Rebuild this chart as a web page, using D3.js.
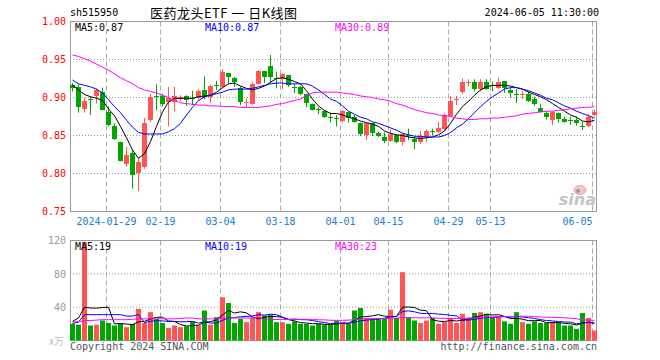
<!DOCTYPE html>
<html><head><meta charset="utf-8">
<script src="https://cdn.jsdelivr.net/npm/d3@7"></script>
<style>body{margin:0;background:#fff}svg{display:block}</style>
</head><body>
<script>
const dates = ["2024-01-19","2024-01-22","2024-01-23","2024-01-24","2024-01-25","2024-01-26","2024-01-29","2024-01-30","2024-01-31","2024-02-01",
"2024-02-02","2024-02-05","2024-02-06","2024-02-07","2024-02-08","2024-02-19","2024-02-20","2024-02-21","2024-02-22","2024-02-23",
"2024-02-26","2024-02-27","2024-02-28","2024-02-29","2024-03-01","2024-03-04","2024-03-05","2024-03-06","2024-03-07","2024-03-08",
"2024-03-11","2024-03-12","2024-03-13","2024-03-14","2024-03-15","2024-03-18","2024-03-19","2024-03-20","2024-03-21","2024-03-22",
"2024-03-25","2024-03-26","2024-03-27","2024-03-28","2024-03-29","2024-04-01","2024-04-02","2024-04-03","2024-04-08","2024-04-09",
"2024-04-10","2024-04-11","2024-04-12","2024-04-15","2024-04-16","2024-04-17","2024-04-18","2024-04-19","2024-04-22","2024-04-23",
"2024-04-24","2024-04-25","2024-04-26","2024-04-29","2024-04-30","2024-05-06","2024-05-07","2024-05-08","2024-05-09","2024-05-10",
"2024-05-13","2024-05-14","2024-05-15","2024-05-16","2024-05-17","2024-05-20","2024-05-21","2024-05-22","2024-05-23","2024-05-24",
"2024-05-27","2024-05-28","2024-05-29","2024-05-30","2024-05-31","2024-06-03","2024-06-04","2024-06-05"];

const open = [0.917,0.914,0.885,0.898,0.902,0.907,0.881,0.862,0.841,0.812,
0.827,0.801,0.808,0.871,0.902,0.902,0.894,0.894,0.898,0.902,
0.899,0.899,0.910,0.900,0.916,0.914,0.932,0.926,0.912,0.893,
0.892,0.918,0.935,0.941,0.926,0.924,0.929,0.914,0.914,0.904,
0.891,0.885,0.882,0.875,0.873,0.869,0.881,0.875,0.866,0.851,
0.866,0.853,0.848,0.843,0.851,0.842,0.851,0.846,0.841,0.848,
0.856,0.854,0.859,0.876,0.897,0.907,0.919,0.920,0.911,0.920,
0.917,0.912,0.922,0.910,0.904,0.904,0.905,0.898,0.886,0.880,
0.871,0.879,0.872,0.870,0.870,0.863,0.862,0.877];
const high = [0.919,0.917,0.900,0.901,0.912,0.913,0.888,0.866,0.842,0.835,
0.831,0.820,0.873,0.905,0.917,0.905,0.914,0.914,0.903,0.903,
0.909,0.911,0.928,0.917,0.922,0.937,0.932,0.927,0.915,0.899,
0.920,0.936,0.935,0.956,0.934,0.932,0.929,0.918,0.915,0.905,
0.892,0.887,0.883,0.880,0.877,0.884,0.881,0.877,0.867,0.867,
0.867,0.855,0.854,0.858,0.852,0.853,0.859,0.848,0.856,0.858,
0.859,0.868,0.879,0.902,0.902,0.925,0.924,0.924,0.924,0.924,
0.921,0.926,0.922,0.913,0.911,0.908,0.908,0.901,0.892,0.882,
0.882,0.880,0.875,0.875,0.875,0.868,0.878,0.884];
const low = [0.908,0.880,0.880,0.877,0.892,0.883,0.862,0.844,0.816,0.809,
0.780,0.777,0.806,0.868,0.883,0.888,0.862,0.882,0.895,0.889,
0.890,0.897,0.898,0.893,0.910,0.912,0.918,0.914,0.890,0.887,
0.890,0.917,0.919,0.919,0.912,0.911,0.914,0.906,0.903,0.887,
0.883,0.878,0.873,0.867,0.862,0.867,0.867,0.867,0.849,0.844,
0.849,0.848,0.840,0.842,0.840,0.837,0.844,0.832,0.839,0.841,
0.850,0.853,0.857,0.875,0.890,0.905,0.915,0.908,0.908,0.910,
0.908,0.911,0.906,0.900,0.893,0.898,0.894,0.889,0.880,0.871,
0.864,0.867,0.867,0.864,0.863,0.857,0.861,0.875];
const close = [0.913,0.887,0.896,0.8975,0.910,0.884,0.864,0.846,0.817,0.824,
0.798,0.815,0.867,0.900,0.9015,0.891,0.899,0.902,0.9005,0.897,
0.8985,0.909,0.901,0.915,0.9155,0.934,0.927,0.921,0.894,0.8935,
0.918,0.935,0.927,0.927,0.9255,0.931,0.916,0.9135,0.904,0.893,
0.884,0.8845,0.875,0.8745,0.8725,0.882,0.873,0.868,0.852,0.866,
0.853,0.850,0.843,0.852,0.842,0.852,0.8505,0.842,0.849,0.856,
0.8555,0.860,0.877,0.895,0.898,0.920,0.920,0.911,0.920,0.911,
0.9165,0.921,0.913,0.906,0.9035,0.905,0.896,0.892,0.881,0.875,
0.881,0.872,0.868,0.8695,0.866,0.8625,0.875,0.881];

const ma5 = [0.916,0.910,0.904,0.901,0.899,0.896,0.885,0.876,0.862,0.847,
0.831,0.820,0.826,0.842,0.862,0.881,0.894,0.899,0.899,0.899,
0.899,0.901,0.902,0.903,0.907,0.913,0.918,0.919,0.915,0.912,
0.910,0.912,0.915,0.920,0.925,0.926,0.924,0.921,0.918,0.909,
0.898,0.889,0.883,0.879,0.879,0.877,0.874,0.872,0.869,0.867,
0.865,0.862,0.856,0.853,0.851,0.850,0.848,0.847,0.846,0.847,
0.848,0.851,0.856,0.866,0.878,0.888,0.895,0.903,0.910,0.914,
0.916,0.916,0.916,0.915,0.913,0.911,0.907,0.904,0.901,0.897,
0.892,0.887,0.882,0.877,0.874,0.869,0.868,0.870];
const ma10 = [0.923,0.918,0.916,0.914,0.911,0.906,0.897,0.888,0.880,0.870,
0.861,0.854,0.852,0.852,0.852,0.852,0.855,0.859,0.866,0.877,
0.887,0.896,0.901,0.903,0.905,0.907,0.910,0.911,0.911,0.911,
0.912,0.914,0.916,0.918,0.919,0.919,0.918,0.918,0.918,0.918,
0.915,0.910,0.904,0.898,0.895,0.889,0.882,0.878,0.874,0.872,
0.868,0.866,0.863,0.860,0.857,0.853,0.851,0.849,0.849,0.848,
0.848,0.848,0.850,0.854,0.860,0.865,0.872,0.880,0.888,0.895,
0.901,0.906,0.911,0.913,0.913,0.911,0.909,0.906,0.903,0.899,
0.897,0.893,0.889,0.886,0.882,0.879,0.876,0.873];
const ma30 = [0.956,0.954,0.951,0.948,0.944,0.940,0.936,0.931,0.926,0.922,
0.918,0.913,0.910,0.908,0.906,0.903,0.900,0.896,0.893,0.892,
0.891,0.890,0.890,0.889,0.889,0.888,0.888,0.888,0.887,0.887,
0.887,0.887,0.888,0.889,0.891,0.892,0.894,0.896,0.898,0.903,
0.906,0.907,0.907,0.907,0.907,0.906,0.905,0.904,0.902,0.901,
0.900,0.898,0.897,0.895,0.892,0.890,0.887,0.884,0.882,0.880,
0.879,0.877,0.876,0.875,0.873,0.872,0.871,0.871,0.872,0.872,
0.873,0.873,0.874,0.875,0.876,0.878,0.879,0.880,0.881,0.882,
0.882,0.883,0.884,0.885,0.886,0.887,0.887,0.888];

const volume = [20,19,118,18,19,24,21,18,20,16,
20,38,21,34,26,21,15,18,16,17,
23,18,36,19,28,52,45,21,26,22,
27,34,30,31,22,22,20,23,20,20,
18,20,19,19,24,22,20,36,39,27,
26,27,27,37,27,82,28,24,21,24,
27,20,22,27,21,32,27,33,34,32,
27,29,23,20,34,22,20,23,21,21,
22,21,18,18,14,33,27,12];
const volMA5Head = [23,27,40,39];
const volMA10Head = [20.5,22,31,31,31,31,31,31,31];
const volMA30Head = [22.4,22.4,24,24,24.5,25,25,25,25,25,25.5,26,26,26,26,26,26,26,26.5,27,27,26,26,26,26,27,27,27,27];

const tickDates = ["2024-01-29","2024-02-19","2024-03-04","2024-03-18","2024-04-01","2024-04-15","2024-04-29","2024-05-13","2024-06-05"];
const tickLabels = ["2024-01-29","02-19","03-04","03-18","04-01","04-15","04-29","05-13","06-05"];
const priceTicks = [0.75,0.80,0.85,0.90,0.95,1.00];
const volTicks = [40,80,120];

const title = "医药龙头ETF 一 日K线图";
const code = "sh515950";
const stamp = "2024-06-05 11:30:00";
const priceMALabels = ["MA5:0.87","MA10:0.87","MA30:0.89"];
const volMALabels = ["MA5:19","MA10:19","MA30:23"];

function rolling(arr, n, head){
  return arr.map((v,i)=> i < head.length ? head[i] : d3.mean(arr.slice(i-n+1,i+1)));
}
const volMA5 = rolling(volume,5,volMA5Head);
const volMA10 = rolling(volume,10,volMA10Head);
const volMA30 = rolling(volume,30,volMA30Head);

const W=660,H=360, L=70, R=597;
const RED="#ff5555", GREEN="#00a600";
const MONO="'DejaVu Sans Mono', monospace";
const maColors=["#000000","#0000ff","#ff00ff"];

const svg=d3.select("body").append("svg").attr("width",W).attr("height",H);
svg.append("rect").attr("width",W).attr("height",H).attr("fill","#fff");

const x=d3.scaleBand().domain(dates).range([69.5,597.5]).padding(0);
const cx=d=>x(d)+x.bandwidth()/2;
const y=d3.scaleLinear().domain([0.75,1.00]).range([211.5,21.5]);
const yv=d3.scaleLinear().domain([0,120]).range([340.5,240.5]);

const panels=[{top:21.5,bot:211.5},{top:240.5,bot:340.5}];

// vertical dashed grid
panels.forEach(p=>{
  svg.append("g").selectAll("line").data(tickDates).join("line")
    .attr("x1",d=>cx(d)-2).attr("x2",d=>cx(d)-2)
    .attr("y1",p.top).attr("y2",p.bot)
    .attr("stroke","#aaa").attr("stroke-dasharray","5,3");
});
// horizontal dotted grid
svg.append("g").selectAll("line").data(priceTicks.filter(t=>t>0.75&&t<1)).join("line")
  .attr("x1",L).attr("x2",R).attr("y1",d=>y(d)).attr("y2",d=>y(d))
  .attr("stroke","#999").attr("stroke-dasharray","1,2");
svg.append("g").selectAll("line").data(volTicks.filter(t=>t<120)).join("line")
  .attr("x1",L).attr("x2",R).attr("y1",d=>yv(d)).attr("y2",d=>yv(d))
  .attr("stroke","#999").attr("stroke-dasharray","1,2");

// sina watermark
const wm=svg.append("g");
wm.append("ellipse").attr("cx",580).attr("cy",190).attr("rx",6).attr("ry",4.5).attr("fill","#f6c4c4").attr("stroke","#eda0a0");
wm.append("circle").attr("cx",578).attr("cy",191).attr("r",2).attr("fill","#999");
wm.append("text").attr("x",596).attr("y",205).attr("text-anchor","end")
  .attr("font-family","'DejaVu Sans', sans-serif").attr("font-weight","bold").attr("font-style","italic")
  .attr("font-size",16).attr("fill","#c4c4c4").text("sina");

// frames
panels.forEach(p=>{
  svg.append("rect").attr("x",L+0.5).attr("y",p.top).attr("width",R-L-1).attr("height",p.bot-p.top)
    .attr("fill","none").attr("stroke","#999");
});

// candles
const data=dates.map((d,i)=>({d,o:open[i],h:high[i],l:low[i],c:close[i],v:volume[i]}));
const col=e=>e.c>=e.o?RED:GREEN;
const cg=svg.append("g");
cg.selectAll("line").data(data).join("line")
  .attr("x1",e=>cx(e.d)).attr("x2",e=>cx(e.d))
  .attr("y1",e=>y(e.h)).attr("y2",e=>y(e.l)).attr("stroke",col);
cg.selectAll("rect").data(data).join("rect")
  .attr("x",e=>cx(e.d)-2.5).attr("width",5)
  .attr("y",e=>Math.round(y(Math.max(e.o,e.c))))
  .attr("height",e=>Math.max(1,Math.round(y(Math.min(e.o,e.c)))-Math.round(y(Math.max(e.o,e.c)))))
  .attr("fill",col);

// volume bars
svg.append("g").selectAll("rect").data(data).join("rect")
  .attr("x",e=>cx(e.d)-2.5).attr("width",5)
  .attr("y",e=>yv(e.v)).attr("height",e=>yv(0)-yv(e.v)).attr("fill",col);

// MA lines
const lineP=d3.line().x((v,i)=>cx(dates[i])).y(v=>y(v));
[ma5,ma10,ma30].forEach((s,k)=>{
  svg.append("path").attr("d",lineP(s)).attr("fill","none").attr("stroke",maColors[k]).attr("stroke-width",1);
});
const lineV=d3.line().x((v,i)=>cx(dates[i])).y(v=>yv(v));
[volMA5,volMA10,volMA30].forEach((s,k)=>{
  svg.append("path").attr("d",lineV(s)).attr("fill","none").attr("stroke",maColors[k]).attr("stroke-width",1);
});

// axis labels
const txt=(g,xx,yy,t,fill,anchor)=>g.append("text").attr("x",xx).attr("y",yy).attr("text-anchor",anchor||"start")
  .attr("dominant-baseline","central").attr("font-family",MONO).attr("font-size",10).attr("fill",fill).text(t);
const yAxis=d3.axisLeft(y).tickValues(priceTicks).tickFormat(d3.format(".2f")).tickSize(0).tickPadding(4);
const ga=svg.append("g").attr("transform",`translate(${L},0)`).call(yAxis);
ga.select(".domain").remove();
ga.selectAll("text").attr("font-family",MONO).attr("font-size",10).attr("fill","#ff0000");
const vAxis=d3.axisLeft(yv).tickValues(volTicks).tickSize(0).tickPadding(4);
const gv=svg.append("g").attr("transform",`translate(${L},0)`).call(vAxis);
gv.select(".domain").remove();
gv.selectAll("text").attr("font-family",MONO).attr("font-size",10).attr("fill","#999");
svg.append("text").attr("x",64).attr("y",yv(0)).attr("text-anchor","end").attr("dominant-baseline","central")
  .attr("font-family","'Noto Sans CJK SC', sans-serif").attr("font-size",10).attr("fill","#bbb").text("x万");

const xAxis=d3.axisBottom(x).tickValues(tickDates).tickFormat((d,i)=>tickLabels[i]).tickSize(0).tickPadding(6);
const gx=svg.append("g").attr("transform",`translate(-2,211.5)`).call(xAxis);
gx.select(".domain").remove();
gx.selectAll("text").attr("font-family",MONO).attr("font-size",10).attr("fill","#1a80d0")
  .attr("text-anchor",(d,i)=>i===tickDates.length-1?"end":"middle");

// MA labels
priceMALabels.forEach((t,k)=>txt(svg,75+130*k,27.5,t,maColors[k]));
volMALabels.forEach((t,k)=>txt(svg,75+130*k,246,t,maColors[k]));

// header
txt(svg,70,12,code,"#000");
svg.append("text").attr("x",150).attr("y",12).attr("dominant-baseline","central")
  .attr("xml:space","preserve").style("white-space","pre")
  .attr("textLength",147).attr("lengthAdjust","spacing")
  .attr("font-family","'Noto Sans CJK SC', sans-serif").attr("font-size",13).attr("fill","#000").text(title);
txt(svg,599,12,stamp,"#000","end");

// footer
txt(svg,70,346,"Copyright 2024 SINA.COM","#555");
txt(svg,597,346,"http://finance.sina.com.cn","#555","end");
</script>
</body></html>
